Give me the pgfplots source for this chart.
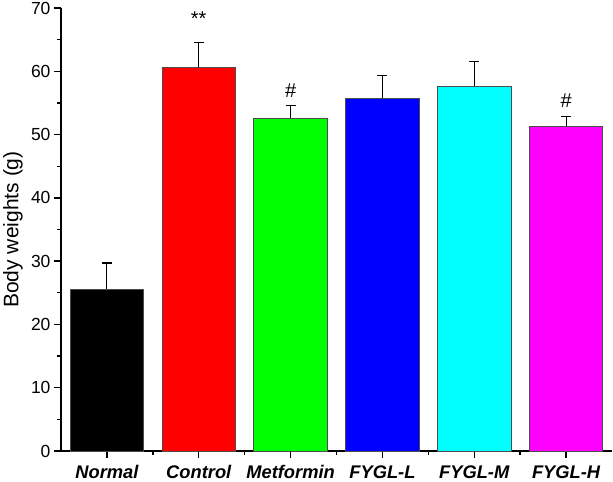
\documentclass[border=0pt]{standalone}
\usepackage{pgfplots}
\pgfplotsset{compat=1.18}
\usepackage{fontspec}
\setmainfont{Liberation Sans}
\definecolor{mygreen}{rgb}{0,1,0}
\definecolor{mycyan}{rgb}{0,1,1}
\definecolor{mymagenta}{rgb}{1,0,1}
\definecolor{myblue}{rgb}{0,0,1}
\definecolor{myred}{rgb}{1,0,0}
\begin{document}
\begin{tikzpicture}
\begin{axis}[
  scale only axis, width=551pt, height=443pt,
  xmin=-0.5, xmax=5.5, ymin=0, ymax=70,
  axis x line*=bottom, axis y line*=left,
  axis line style={line width=1.6pt, -},
  ytick={0,10,...,70}, minor ytick={5,15,...,65},
  xtick={0,1,2,3,4,5}, minor xtick={0.5,1.5,...,4.5},
  xticklabels={Normal,Control,Metformin,FYGL-L,FYGL-M,FYGL-H},
  xticklabel style={font=\bfseries\itshape\fontsize{18.3}{18.3}\selectfont, yshift=-4pt},
  yticklabel style={font=\fontsize{17.5}{17.5}\selectfont},
  /pgf/number format/assume math mode=true,
  tick align=outside, major tick length=7pt, minor tick length=4pt,
  every tick/.style={line width=1.4pt, black},
  ylabel={Body weights (g)},
  ylabel style={font=\fontsize{21}{21}\selectfont, at={(axis description cs:-0.087,0.5)}, anchor=center},
  clip=false,
]
\pgfplotsset{mybar/.style={ybar, bar width=0.8, bar shift=0pt, draw=black!70, line width=0.8pt,
  error bars/y dir=plus, error bars/y explicit,
  error bars/error bar style={line width=1.1pt, black},
  error bars/error mark options={rotate=90, mark size=5pt, line width=1.1pt, black}}}
\addplot[mybar, fill=black] coordinates {(0,25.6) +- (0,4.1)};
\addplot[mybar, fill=myred] coordinates {(1,60.6) +- (0,4.0)};
\addplot[mybar, fill=mygreen] coordinates {(2,52.6) +- (0,2.0)};
\addplot[mybar, fill=myblue] coordinates {(3,55.7) +- (0,3.6)};
\addplot[mybar, fill=mycyan] coordinates {(4,57.6) +- (0,3.95)};
\addplot[mybar, fill=mymagenta] coordinates {(5,51.3) +- (0,1.6)};
\node[font=\fontsize{20}{20}\selectfont] at (axis cs:1,68.3) {**};
\node[font=\fontsize{20}{20}\selectfont] at (axis cs:2,57.0) {\#};
\node[font=\fontsize{20}{20}\selectfont] at (axis cs:5,55.4) {\#};
\end{axis}
\pgfresetboundingbox
\path ([shift={(-61pt,-31pt)}]current axis.south west) rectangle ([shift={(1pt,8pt)}]current axis.north east);
\end{tikzpicture}
\end{document}
